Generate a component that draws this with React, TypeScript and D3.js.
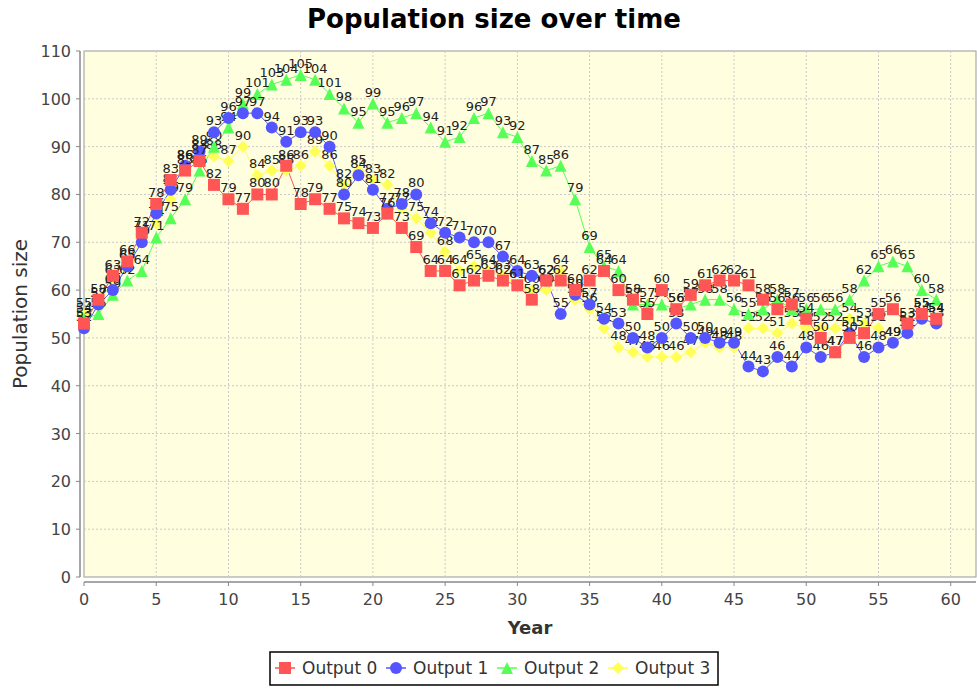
import React from "react";
import * as d3 from "d3";

const years: number[] = d3.range(0, 60);
const output0: number[] = [53, 58, 63, 66, 72, 78, 83, 85, 87, 82, 79, 77, 80, 80, 86, 78, 79, 77, 75, 74, 73, 76, 73, 69, 64, 64, 61, 62, 63, 62, 61, 58, 62, 62, 60, 62, 64, 60, 58, 55, 60, 56, 59, 61, 62, 62, 61, 58, 56, 57, 54, 50, 47, 50, 51, 55, 56, 53, 55, 54];
const output1: number[] = [52, 57, 60, 65, 70, 76, 81, 86, 89, 93, 96, 97, 97, 94, 91, 93, 93, 90, 80, 84, 81, 77, 78, 80, 74, 72, 71, 70, 70, 67, 64, 63, 62, 55, 59, 57, 54, 53, 50, 48, 50, 53, 50, 50, 49, 49, 44, 43, 46, 44, 48, 46, 47, 51, 46, 48, 49, 51, 54, 53];
const output2: number[] = [54, 55, 59, 62, 64, 71, 75, 79, 85, 90, 94, 99, 101, 103, 104, 105, 104, 101, 98, 95, 99, 95, 96, 97, 94, 91, 92, 96, 97, 93, 92, 87, 85, 86, 79, 69, 65, 64, 57, 57, 57, 56, 57, 58, 58, 56, 55, 56, 58, 56, 56, 56, 56, 58, 62, 65, 66, 65, 60, 58];
const output3: number[] = [55, 57, 62, 65, 71, 74, 79, 86, 88, 88, 87, 90, 84, 85, 85, 86, 89, 86, 82, 85, 83, 82, 77, 75, 72, 68, 64, 65, 64, 63, 61, 60, 60, 64, 58, 56, 52, 48, 47, 46, 46, 46, 47, 49, 48, 48, 52, 52, 51, 53, 52, 52, 52, 54, 53, 52, 49, 52, 55, 54];

const seriesNames: string[] = ["Output 0", "Output 1", "Output 2", "Output 3"];
const seriesColors: string[] = ["#ff5555", "#5555ff", "#55ff55", "#ffff55"];
const seriesShapes: string[] = ["square", "circle", "triangle", "diamond"];
const xTicks: number[] = d3.range(0, 61, 5);
const yTicks: number[] = d3.range(0, 111, 10);

const W = 977;
const H = 689;
const plot = { left: 84, top: 51, right: 976, bottom: 577 };
const FONT = "'DejaVu Sans', Verdana, sans-serif";

function Marker({ shape, x, y, color, s }: { shape: string; x: number; y: number; color: string; s: number }) {
  if (shape === "square") return <rect x={x - s} y={y - s} width={2 * s} height={2 * s} fill={color} />;
  if (shape === "circle") return <circle cx={x} cy={y} r={s} fill={color} />;
  if (shape === "triangle")
    return <path d={`M${x},${y - s}L${x + s},${y + s}L${x - s},${y + s}Z`} fill={color} />;
  return <path d={`M${x},${y - s}L${x + s},${y}L${x},${y + s}L${x - s},${y}Z`} fill={color} />;
}

export default function App() {
  const data = [output0, output1, output2, output3];
  const x = d3.scaleLinear().domain([0, 61.75]).range([plot.left, plot.right]);
  const y = d3.scaleLinear().domain([0, 110]).range([plot.bottom, plot.top]);
  const line = d3
    .line<number>()
    .x((_, i) => x(years[i]))
    .y((d) => y(d));
  const order = [3, 2, 1, 0];

  const legendStep = 111;
  const legendX0 = 275;

  return (
    <svg width={W} height={H} style={{ position: "absolute", left: 0, top: 0, background: "#fff" }} fontFamily={FONT}>
      <text x={494} y={28} textAnchor="middle" fontSize={26} fontWeight="bold" fill="#000">
        Population size over time
      </text>
      <rect x={plot.left} y={plot.top} width={plot.right - plot.left} height={plot.bottom - plot.top} fill="#ffffe0" stroke="#999" strokeWidth={1} />
      {xTicks.map((t) => (
        <line key={"gx" + t} x1={x(t)} x2={x(t)} y1={plot.top} y2={plot.bottom} stroke="#c8c8c8" strokeDasharray="2,2" />
      ))}
      {yTicks.map((t) => (
        <line key={"gy" + t} x1={plot.left} x2={plot.right} y1={y(t)} y2={y(t)} stroke="#c8c8c8" strokeDasharray="2,2" />
      ))}
      {/* y axis */}
      <line x1={80} x2={80} y1={plot.top} y2={plot.bottom} stroke="#888" strokeWidth={1.5} />
      {yTicks.map((t) => (
        <g key={"ty" + t}>
          <line x1={76} x2={80} y1={y(t)} y2={y(t)} stroke="#888" />
          <text x={71} y={y(t) + 6} textAnchor="end" fontSize={16} fill="#444">
            {t}
          </text>
        </g>
      ))}
      {/* x axis */}
      <line x1={plot.left} x2={plot.right} y1={582} y2={582} stroke="#888" strokeWidth={1.5} />
      {xTicks.map((t) => (
        <g key={"tx" + t}>
          <line x1={x(t)} x2={x(t)} y1={582} y2={586} stroke="#888" />
          <text x={x(t)} y={605} textAnchor="middle" fontSize={16} fill="#444">
            {t}
          </text>
        </g>
      ))}
      <text x={530} y={634} textAnchor="middle" fontSize={18} fontWeight="bold" fill="#333">
        Year
      </text>
      <text transform={`translate(27,${(plot.top + plot.bottom) / 2}) rotate(-90)`} textAnchor="middle" fontSize={20} fill="#333">
        Population size
      </text>
      {/* lines */}
      {order.map((si) => (
        <path key={"l" + si} d={line(data[si]) || ""} fill="none" stroke={seriesColors[si]} strokeWidth={1} />
      ))}
      {/* markers & labels */}
      {order.map((si) => (
        <g key={"m" + si}>
          {data[si].map((v, i) => (
            <Marker key={i} shape={seriesShapes[si]} x={x(years[i])} y={y(v)} color={seriesColors[si]} s={6} />
          ))}
          {data[si].map((v, i) => (
            <text key={"t" + i} x={x(years[i])} y={y(v) - 7} textAnchor="middle" fontSize={13} fill="#222">
              {v}
            </text>
          ))}
        </g>
      ))}
      {/* legend */}
      <rect x={270} y={652} width={448} height={33} fill="#fff" stroke="#000" strokeWidth={1.5} />
      {seriesNames.map((n, i) => {
        const lx = legendX0 + i * legendStep;
        return (
          <g key={"lg" + i}>
            <line x1={lx} x2={lx + 20} y1={668} y2={668} stroke={seriesColors[i]} strokeWidth={1.5} />
            <Marker shape={seriesShapes[i]} x={lx + 10} y={668} color={seriesColors[i]} s={6} />
            <text x={lx + 27} y={674} fontSize={17} fill="#333">
              {n}
            </text>
          </g>
        );
      })}
    </svg>
  );
}
